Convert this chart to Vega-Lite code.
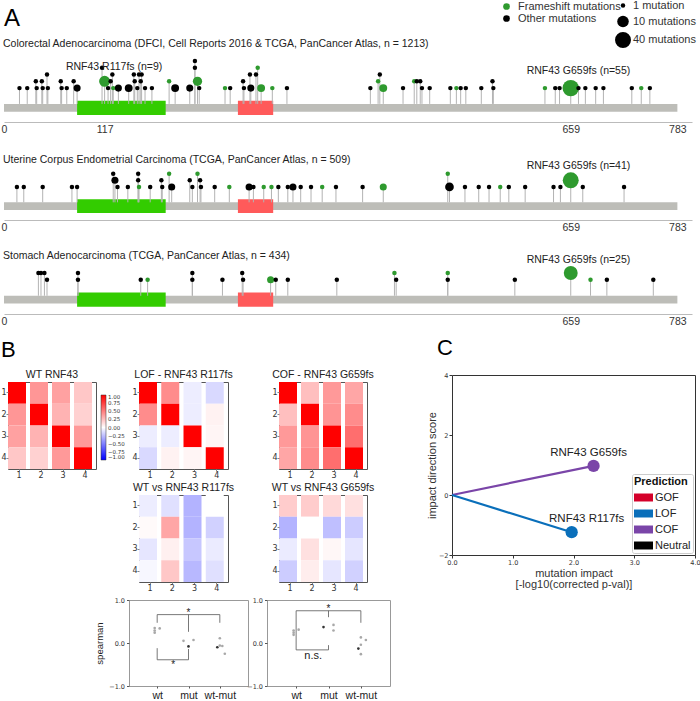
{
"$schema": "https://vega.github.io/schema/vega-lite/v6.json",
"padding": 0,
"config": {"view": {"stroke": null}, "font": "Liberation Sans", "title": {"fontWeight": "normal", "color": "#222"}, "axis": {"grid": false, "labelOverlap": false}},
"datasets": {
"crc": [
{"p":18,"l":1,"m":"O","n":1},{"p":27,"l":1,"m":"O","n":1},{"p":37,"l":2,"m":"O","n":1},{"p":38,"l":1,"m":"O","n":1},{"p":44,"l":2,"m":"O","n":1},{"p":45,"l":1,"m":"O","n":1},{"p":50,"l":3,"m":"O","n":1},{"p":51,"l":1,"m":"O","n":1},{"p":66,"l":2,"m":"O","n":1},{"p":67,"l":1,"m":"O","n":1},{"p":73,"l":1,"m":"O","n":1},{"p":81,"l":2,"m":"O","n":1},{"p":85,"l":1,"m":"O","n":3},{"p":114,"l":4,"m":"O","n":1},{"p":117,"l":2,"m":"F","n":9},{"p":121,"l":1,"m":"O","n":1},{"p":124,"l":2,"m":"O","n":1},{"p":126,"l":3,"m":"O","n":1},{"p":127,"l":1,"m":"F","n":1},{"p":133,"l":1,"m":"O","n":3},{"p":145,"l":1,"m":"O","n":4},{"p":151,"l":3,"m":"O","n":1},{"p":152,"l":2,"m":"O","n":1},{"p":155,"l":1,"m":"O","n":1},{"p":157,"l":3,"m":"O","n":1},{"p":159,"l":2,"m":"O","n":1},{"p":160,"l":3,"m":"O","n":1},{"p":164,"l":1,"m":"O","n":1},{"p":172,"l":1,"m":"O","n":1},{"p":192,"l":2,"m":"F","n":1},{"p":199,"l":1,"m":"O","n":4},{"p":216,"l":1,"m":"O","n":3},{"p":222,"l":5,"m":"O","n":1},{"p":222,"l":4,"m":"O","n":1},{"p":225,"l":2,"m":"F","n":6},{"p":227,"l":1,"m":"O","n":1},{"p":257,"l":1,"m":"F","n":1},{"p":263,"l":1,"m":"O","n":1},{"p":278,"l":2,"m":"O","n":1},{"p":279,"l":1,"m":"O","n":1},{"p":286,"l":3,"m":"O","n":1},{"p":287,"l":1,"m":"O","n":3},{"p":293,"l":3,"m":"O","n":1},{"p":295,"l":4,"m":"F","n":1},{"p":299,"l":1,"m":"F","n":4},{"p":312,"l":1,"m":"F","n":1},{"p":329,"l":1,"m":"O","n":1},{"p":426,"l":1,"m":"O","n":1},{"p":435,"l":2,"m":"F","n":1},{"p":437,"l":3,"m":"O","n":1},{"p":441,"l":1,"m":"F","n":4},{"p":464,"l":1,"m":"O","n":1},{"p":477,"l":2,"m":"F","n":1},{"p":480,"l":2,"m":"O","n":1},{"p":484,"l":2,"m":"O","n":1},{"p":486,"l":1,"m":"O","n":1},{"p":495,"l":1,"m":"O","n":1},{"p":519,"l":1,"m":"O","n":1},{"p":526,"l":1,"m":"F","n":1},{"p":531,"l":1,"m":"O","n":1},{"p":537,"l":1,"m":"O","n":1},{"p":555,"l":1,"m":"O","n":1},{"p":568,"l":2,"m":"O","n":1},{"p":569,"l":1,"m":"O","n":1},{"p":629,"l":1,"m":"F","n":1},{"p":641,"l":1,"m":"O","n":1},{"p":646,"l":1,"m":"O","n":1},{"p":659,"l":1,"m":"F","n":55},{"p":668,"l":1,"m":"O","n":1},{"p":676,"l":1,"m":"O","n":1},{"p":688,"l":1,"m":"O","n":1},{"p":697,"l":1,"m":"O","n":1},{"p":730,"l":1,"m":"O","n":1},{"p":741,"l":1,"m":"F","n":1},{"p":751,"l":1,"m":"O","n":1}
],
"ucec": [
{"p":15,"l":1,"m":"O","n":1},{"p":23,"l":1,"m":"O","n":1},{"p":45,"l":1,"m":"O","n":1},{"p":79,"l":1,"m":"O","n":1},{"p":85,"l":1,"m":"O","n":1},{"p":127,"l":3,"m":"O","n":1},{"p":129,"l":2,"m":"O","n":3},{"p":132,"l":1,"m":"O","n":1},{"p":144,"l":1,"m":"O","n":1},{"p":156,"l":3,"m":"O","n":1},{"p":156,"l":2,"m":"O","n":1},{"p":157,"l":1,"m":"F","n":1},{"p":170,"l":1,"m":"O","n":1},{"p":183,"l":2,"m":"O","n":1},{"p":184,"l":1,"m":"O","n":1},{"p":192,"l":3,"m":"F","n":1},{"p":195,"l":1,"m":"O","n":3},{"p":216,"l":2,"m":"O","n":1},{"p":219,"l":1,"m":"O","n":1},{"p":225,"l":3,"m":"F","n":1},{"p":228,"l":2,"m":"O","n":1},{"p":229,"l":1,"m":"O","n":1},{"p":245,"l":1,"m":"O","n":1},{"p":262,"l":1,"m":"F","n":1},{"p":285,"l":1,"m":"O","n":3},{"p":290,"l":1,"m":"O","n":1},{"p":302,"l":1,"m":"F","n":1},{"p":311,"l":1,"m":"F","n":1},{"p":319,"l":1,"m":"O","n":1},{"p":330,"l":1,"m":"O","n":1},{"p":336,"l":1,"m":"O","n":3},{"p":345,"l":1,"m":"O","n":1},{"p":357,"l":1,"m":"O","n":1},{"p":370,"l":1,"m":"F","n":1},{"p":386,"l":1,"m":"O","n":1},{"p":417,"l":1,"m":"O","n":1},{"p":441,"l":1,"m":"F","n":3},{"p":516,"l":3,"m":"F","n":1},{"p":518,"l":1,"m":"O","n":5},{"p":536,"l":1,"m":"O","n":1},{"p":552,"l":1,"m":"O","n":1},{"p":564,"l":1,"m":"O","n":1},{"p":577,"l":1,"m":"F","n":1},{"p":587,"l":1,"m":"O","n":1},{"p":606,"l":1,"m":"O","n":1},{"p":639,"l":1,"m":"O","n":1},{"p":647,"l":1,"m":"O","n":1},{"p":659,"l":2,"m":"F","n":41},{"p":673,"l":1,"m":"O","n":1},{"p":721,"l":1,"m":"O","n":1}
],
"stad": [
{"p":40,"l":2,"m":"O","n":1},{"p":43,"l":2,"m":"O","n":1},{"p":47,"l":2,"m":"O","n":1},{"p":50,"l":1,"m":"O","n":1},{"p":86,"l":2,"m":"O","n":1},{"p":86,"l":1,"m":"O","n":1},{"p":159,"l":1,"m":"O","n":1},{"p":167,"l":1,"m":"F","n":1},{"p":219,"l":2,"m":"O","n":1},{"p":219,"l":1,"m":"O","n":1},{"p":254,"l":1,"m":"O","n":1},{"p":277,"l":2,"m":"O","n":1},{"p":278,"l":1,"m":"O","n":1},{"p":310,"l":1,"m":"F","n":3},{"p":316,"l":1,"m":"O","n":1},{"p":330,"l":1,"m":"O","n":1},{"p":387,"l":1,"m":"O","n":1},{"p":454,"l":2,"m":"F","n":1},{"p":456,"l":1,"m":"O","n":1},{"p":516,"l":2,"m":"F","n":1},{"p":516,"l":1,"m":"O","n":1},{"p":594,"l":1,"m":"O","n":1},{"p":659,"l":2,"m":"F","n":25},{"p":682,"l":1,"m":"F","n":1},{"p":701,"l":1,"m":"O","n":1},{"p":755,"l":1,"m":"O","n":1}
],
"domains": [{"name":"PA","start":85,"end":188},{"name":"RING","start":272,"end":313}],
"hm": [
{"g":"WT","r":1,"c":1,"v":1},{"g":"WT","r":1,"c":2,"v":0.41},{"g":"WT","r":1,"c":3,"v":0.37},{"g":"WT","r":1,"c":4,"v":0.22},
{"g":"WT","r":2,"c":1,"v":0.41},{"g":"WT","r":2,"c":2,"v":1},{"g":"WT","r":2,"c":3,"v":0.3},{"g":"WT","r":2,"c":4,"v":0.18},
{"g":"WT","r":3,"c":1,"v":0.37},{"g":"WT","r":3,"c":2,"v":0.3},{"g":"WT","r":3,"c":3,"v":1},{"g":"WT","r":3,"c":4,"v":0.4},
{"g":"WT","r":4,"c":1,"v":0.22},{"g":"WT","r":4,"c":2,"v":0.18},{"g":"WT","r":4,"c":3,"v":0.4},{"g":"WT","r":4,"c":4,"v":1},
{"g":"LOF","r":1,"c":1,"v":1},{"g":"LOF","r":1,"c":2,"v":0.45},{"g":"LOF","r":1,"c":3,"v":-0.07},{"g":"LOF","r":1,"c":4,"v":-0.15},
{"g":"LOF","r":2,"c":1,"v":0.45},{"g":"LOF","r":2,"c":2,"v":1},{"g":"LOF","r":2,"c":3,"v":-0.07},{"g":"LOF","r":2,"c":4,"v":0.05},
{"g":"LOF","r":3,"c":1,"v":-0.07},{"g":"LOF","r":3,"c":2,"v":-0.07},{"g":"LOF","r":3,"c":3,"v":1},{"g":"LOF","r":3,"c":4,"v":0.04},
{"g":"LOF","r":4,"c":1,"v":-0.15},{"g":"LOF","r":4,"c":2,"v":0.05},{"g":"LOF","r":4,"c":3,"v":0.04},{"g":"LOF","r":4,"c":4,"v":1},
{"g":"COF","r":1,"c":1,"v":1},{"g":"COF","r":1,"c":2,"v":0.25},{"g":"COF","r":1,"c":3,"v":0.4},{"g":"COF","r":1,"c":4,"v":0.35},
{"g":"COF","r":2,"c":1,"v":0.25},{"g":"COF","r":2,"c":2,"v":1},{"g":"COF","r":2,"c":3,"v":0.42},{"g":"COF","r":2,"c":4,"v":0.45},
{"g":"COF","r":3,"c":1,"v":0.4},{"g":"COF","r":3,"c":2,"v":0.42},{"g":"COF","r":3,"c":3,"v":1},{"g":"COF","r":3,"c":4,"v":0.57},
{"g":"COF","r":4,"c":1,"v":0.35},{"g":"COF","r":4,"c":2,"v":0.45},{"g":"COF","r":4,"c":3,"v":0.57},{"g":"COF","r":4,"c":4,"v":1},
{"g":"R117","r":1,"c":1,"v":-0.07},{"g":"R117","r":1,"c":2,"v":-0.12},{"g":"R117","r":1,"c":3,"v":-0.3},{"g":"R117","r":1,"c":4,"v":0},
{"g":"R117","r":2,"c":1,"v":0.02},{"g":"R117","r":2,"c":2,"v":0.35},{"g":"R117","r":2,"c":3,"v":-0.3},{"g":"R117","r":2,"c":4,"v":-0.18},
{"g":"R117","r":3,"c":1,"v":-0.1},{"g":"R117","r":3,"c":2,"v":0.06},{"g":"R117","r":3,"c":3,"v":-0.22},{"g":"R117","r":3,"c":4,"v":-0.08},
{"g":"R117","r":4,"c":1,"v":-0.03},{"g":"R117","r":4,"c":2,"v":0.22},{"g":"R117","r":4,"c":3,"v":-0.28},{"g":"R117","r":4,"c":4,"v":-0.12},
{"g":"G659","r":1,"c":1,"v":0.2},{"g":"G659","r":1,"c":2,"v":0.2},{"g":"G659","r":1,"c":3,"v":0.15},{"g":"G659","r":1,"c":4,"v":0.12},
{"g":"G659","r":2,"c":1,"v":-0.3},{"g":"G659","r":2,"c":2,"v":0},{"g":"G659","r":2,"c":3,"v":-0.25},{"g":"G659","r":2,"c":4,"v":-0.2},
{"g":"G659","r":3,"c":1,"v":-0.08},{"g":"G659","r":3,"c":2,"v":0.12},{"g":"G659","r":3,"c":3,"v":0.03},{"g":"G659","r":3,"c":4,"v":-0.1},
{"g":"G659","r":4,"c":1,"v":-0.2},{"g":"G659","r":4,"c":2,"v":0.07},{"g":"G659","r":4,"c":3,"v":-0.1},{"g":"G659","r":4,"c":4,"v":-0.18}
],
"sp": [
{"g":"R117","cat":"wt","v":0.35,"k":"rep","j":-1},{"g":"R117","cat":"wt","v":0.34,"k":"rep","j":1},{"g":"R117","cat":"wt","v":0.29,"k":"rep","j":-1},{"g":"R117","cat":"wt","v":0.24,"k":"rep","j":-1},
{"g":"R117","cat":"mut","v":0.05,"k":"rep","j":-2},{"g":"R117","cat":"mut","v":0.07,"k":"rep","j":2},{"g":"R117","cat":"mut","v":-0.08,"k":"mean","j":0},
{"g":"R117","cat":"wt-mut","v":0.11,"k":"rep","j":0},{"g":"R117","cat":"wt-mut","v":-0.1,"k":"mean","j":-1},{"g":"R117","cat":"wt-mut","v":-0.06,"k":"rep","j":0},{"g":"R117","cat":"wt-mut","v":-0.07,"k":"rep","j":1},{"g":"R117","cat":"wt-mut","v":-0.25,"k":"rep","j":2},
{"g":"G659","cat":"wt","v":0.29,"k":"rep","j":-1},{"g":"G659","cat":"wt","v":0.31,"k":"rep","j":1},{"g":"G659","cat":"wt","v":0.24,"k":"rep","j":-1},{"g":"G659","cat":"wt","v":0.19,"k":"rep","j":-1},
{"g":"G659","cat":"mut","v":0.37,"k":"mean","j":-2},{"g":"G659","cat":"mut","v":0.42,"k":"rep","j":2},{"g":"G659","cat":"mut","v":0.29,"k":"rep","j":2},
{"g":"G659","cat":"wt-mut","v":0.13,"k":"rep","j":0},{"g":"G659","cat":"wt-mut","v":0.07,"k":"rep","j":2},{"g":"G659","cat":"wt-mut","v":-0.04,"k":"rep","j":0},{"g":"G659","cat":"wt-mut","v":-0.13,"k":"mean","j":-1},{"g":"G659","cat":"wt-mut","v":-0.26,"k":"rep","j":0}
],
"br": [
{"g":"R117","x":"wt","x2":"wt-mut","y":0.66,"y2":0.66},{"g":"R117","x":"wt","x2":"wt","y":0.66,"y2":0.47},{"g":"R117","x":"mut","x2":"mut","y":0.66,"y2":0.26},{"g":"R117","x":"wt-mut","x2":"wt-mut","y":0.66,"y2":0.47},
{"g":"R117","x":"wt","x2":"wt","y":-0.12,"y2":-0.39},{"g":"R117","x":"wt","x2":"mut","y":-0.39,"y2":-0.39},{"g":"R117","x":"mut","x2":"mut","y":-0.39,"y2":-0.14},
{"g":"G659","x":"wt","x2":"wt-mut","y":0.75,"y2":0.75},{"g":"G659","x":"wt","x2":"wt","y":0.75,"y2":-0.16},{"g":"G659","x":"mut","x2":"mut","y":0.75,"y2":0.6},{"g":"G659","x":"wt-mut","x2":"wt-mut","y":0.75,"y2":0.47},
{"g":"G659","x":"wt","x2":"mut","y":-0.16,"y2":-0.16},{"g":"G659","x":"mut","x2":"mut","y":-0.16,"y2":-0.05}
],
"imp": [{"m":"RNF43 G659fs","x":2.33,"y":0.97,"pred":"COF"},{"m":"RNF43 R117fs","x":1.97,"y":-1.24,"pred":"LOF"}]
},
"vconcat": [
{
"vconcat": [
{
"width": 688, "height": 122, "data": {"name": "crc"},
"layer": [
{"data": {"values": [{}]}, "mark": {"type": "rect", "color": "#bdbdb8"}, "encoding": {"x": {"datum": 0, "type": "quantitative", "scale": {"domain": [0, 783]}, "axis": {"values": [0, 117, 659, 783], "title": null, "ticks": false, "domain": true, "domainColor": "#bbbbbb", "labelFontSize": 10.5, "labelColor": "#333", "labelPadding": 2, "labelFlush": false, "format": "d"}}, "x2": {"datum": 783}, "y": {"datum": -1.33, "type": "quantitative", "scale": {"domain": [-3.4, 12.867]}, "axis": null}, "y2": {"datum": -2.47}}},
{"data": {"name": "domains"}, "mark": {"type": "rect"}, "encoding": {"x": {"field": "start", "type": "quantitative"}, "x2": {"field": "end"}, "y": {"datum": -0.85}, "y2": {"datum": -2.95}, "fill": {"field": "name", "type": "nominal", "scale": {"domain": ["PA", "RING"], "range": ["#33cc00", "#ff5a5a"]}, "legend": null}}},
{"mark": {"type": "rule", "color": "#b3b3b3", "strokeWidth": 1}, "encoding": {"x": {"field": "p", "type": "quantitative"}, "y": {"field": "l", "type": "quantitative"}, "y2": {"datum": -1.33}}},
{"mark": {"type": "circle", "opacity": 1}, "encoding": {"x": {"field": "p", "type": "quantitative"}, "y": {"field": "l", "type": "quantitative"},
 "color": {"field": "m", "type": "nominal", "scale": {"domain": ["F", "O"], "range": ["#2e9a2e", "#000000"]}, "legend": {"orient": "none", "legendX": 497, "legendY": 1, "title": null, "labelExpr": "datum.value == 'F' ? 'Frameshift mutations' : 'Other mutations'", "symbolType": "circle", "symbolSize": 45, "symbolStrokeWidth": 0, "labelFontSize": 11, "labelColor": "#333", "rowPadding": 0, "labelOffset": 6}},
 "size": {"field": "n", "type": "quantitative", "scale": {"type": "linear", "zero": false, "domain": [1, 3, 5, 10, 40, 55], "range": [20, 50, 75, 133, 254, 270]}, "legend": {"orient": "none", "legendX": 611, "legendY": 0, "title": null, "values": [1, 10, 40], "labelExpr": "datum.value == 1 ? '1 mutation' : datum.value + ' mutations'", "symbolFillColor": "#000", "symbolStrokeWidth": 0, "labelFontSize": 11, "labelColor": "#333", "rowPadding": 4.5, "labelOffset": 2}}}},
{"data": {"values": [{}]}, "mark": {"type": "text", "text": "A", "fontSize": 24, "align": "left", "baseline": "middle", "color": "#000"}, "encoding": {"x": {"datum": 0}, "y": {"datum": 11.2}}},
{"data": {"values": [{}]}, "mark": {"type": "text", "text": "Colorectal Adenocarcinoma (DFCI, Cell Reports 2016 & TCGA, PanCancer Atlas, n = 1213)", "fontSize": 10.5, "align": "left", "baseline": "middle", "color": "#222", "dx": -1}, "encoding": {"x": {"datum": 0}, "y": {"datum": 7.53}}},
{"data": {"values": [{}]}, "mark": {"type": "text", "text": "RNF43 R117fs (n=9)", "fontSize": 10.5, "align": "center", "baseline": "middle", "color": "#222"}, "encoding": {"x": {"datum": 128}, "y": {"datum": 4.07}}},
{"data": {"values": [{}]}, "mark": {"type": "text", "text": "RNF43 G659fs (n=55)", "fontSize": 10.5, "align": "center", "baseline": "middle", "color": "#222"}, "encoding": {"x": {"datum": 668}, "y": {"datum": 3.5}}}
]
},
{
"width": 688, "height": 86, "data": {"name": "ucec"},
"layer": [
{"data": {"values": [{}]}, "mark": {"type": "rect", "color": "#bdbdb8"}, "encoding": {"x": {"datum": 0, "type": "quantitative", "scale": {"domain": [0, 783]}, "axis": {"values": [0, 659, 783], "title": null, "ticks": false, "domain": true, "domainColor": "#bbbbbb", "labelFontSize": 10.5, "labelColor": "#333", "labelPadding": 2, "labelFlush": false, "format": "d"}}, "x2": {"datum": 783}, "y": {"datum": -1.33, "type": "quantitative", "scale": {"domain": [-3.4, 8.067]}, "axis": null}, "y2": {"datum": -2.47}}},
{"data": {"name": "domains"}, "mark": {"type": "rect"}, "encoding": {"x": {"field": "start", "type": "quantitative"}, "x2": {"field": "end"}, "y": {"datum": -0.85}, "y2": {"datum": -2.95}, "fill": {"field": "name", "type": "nominal", "scale": {"domain": ["PA", "RING"], "range": ["#33cc00", "#ff5a5a"]}, "legend": null}}},
{"mark": {"type": "rule", "color": "#b3b3b3", "strokeWidth": 1}, "encoding": {"x": {"field": "p", "type": "quantitative"}, "y": {"field": "l", "type": "quantitative"}, "y2": {"datum": -1.33}}},
{"mark": {"type": "circle", "opacity": 1}, "encoding": {"x": {"field": "p", "type": "quantitative"}, "y": {"field": "l", "type": "quantitative"},
 "color": {"field": "m", "type": "nominal", "scale": {"domain": ["F", "O"], "range": ["#2e9a2e", "#000000"]}, "legend": null},
 "size": {"field": "n", "type": "quantitative", "scale": {"type": "linear", "zero": false, "domain": [1, 3, 5, 10, 40, 55], "range": [20, 50, 75, 133, 254, 270]}, "legend": null}}},
{"data": {"values": [{}]}, "mark": {"type": "text", "text": "Uterine Corpus Endometrial Carcinoma (TCGA, PanCancer Atlas, n = 509)", "fontSize": 10.5, "align": "left", "baseline": "middle", "color": "#222", "dx": -1}, "encoding": {"x": {"datum": 0}, "y": {"datum": 5.0}}},
{"data": {"values": [{}]}, "mark": {"type": "text", "text": "RNF43 G659fs (n=41)", "fontSize": 10.5, "align": "center", "baseline": "middle", "color": "#222"}, "encoding": {"x": {"datum": 668}, "y": {"datum": 4.2}}}
]
},
{
"width": 688, "height": 82, "data": {"name": "stad"},
"layer": [
{"data": {"values": [{}]}, "mark": {"type": "rect", "color": "#bdbdb8"}, "encoding": {"x": {"datum": 0, "type": "quantitative", "scale": {"domain": [0, 783]}, "axis": {"values": [0, 659, 783], "title": null, "ticks": false, "domain": true, "domainColor": "#bbbbbb", "labelFontSize": 10.5, "labelColor": "#333", "labelPadding": 2, "labelFlush": false, "format": "d"}}, "x2": {"datum": 783}, "y": {"datum": -1.33, "type": "quantitative", "scale": {"domain": [-3.67, 7.267]}, "axis": null}, "y2": {"datum": -2.47}}},
{"data": {"name": "domains"}, "mark": {"type": "rect"}, "encoding": {"x": {"field": "start", "type": "quantitative"}, "x2": {"field": "end"}, "y": {"datum": -0.85}, "y2": {"datum": -2.95}, "fill": {"field": "name", "type": "nominal", "scale": {"domain": ["PA", "RING"], "range": ["#33cc00", "#ff5a5a"]}, "legend": null}}},
{"mark": {"type": "rule", "color": "#b3b3b3", "strokeWidth": 1}, "encoding": {"x": {"field": "p", "type": "quantitative"}, "y": {"field": "l", "type": "quantitative"}, "y2": {"datum": -1.33}}},
{"mark": {"type": "circle", "opacity": 1}, "encoding": {"x": {"field": "p", "type": "quantitative"}, "y": {"field": "l", "type": "quantitative"},
 "color": {"field": "m", "type": "nominal", "scale": {"domain": ["F", "O"], "range": ["#2e9a2e", "#000000"]}, "legend": null},
 "size": {"field": "n", "type": "quantitative", "scale": {"type": "linear", "zero": false, "domain": [1, 3, 5, 10, 40, 55], "range": [20, 50, 75, 133, 254, 270]}, "legend": null}}},
{"data": {"values": [{}]}, "mark": {"type": "text", "text": "Stomach Adenocarcinoma (TCGA, PanCancer Atlas, n = 434)", "fontSize": 10.5, "align": "left", "baseline": "middle", "color": "#222", "dx": -1}, "encoding": {"x": {"datum": 0}, "y": {"datum": 4.47}}},
{"data": {"values": [{}]}, "mark": {"type": "text", "text": "RNF43 G659fs (n=25)", "fontSize": 10.5, "align": "center", "baseline": "middle", "color": "#222"}, "encoding": {"x": {"datum": 668}, "y": {"datum": 3.97}}}
]
}
],
"spacing": 12, "bounds": "flush",
"resolve": {"scale": {"color": "independent", "size": "independent", "fill": "independent"}}
},
{
"hconcat": [
{
"hconcat": [
{"width": 1, "height": 1, "data": {"values": [{}]}, "mark": {"type": "text", "text": ""}, "encoding": {}},
{
"vconcat": [
{"width": 1, "height": 1, "data": {"values": [{}]}, "mark": {"type": "text", "text": ""}, "encoding": {},
 "title": {"text": "B", "fontSize": 22, "fontWeight": "normal", "color": "#000", "anchor": "start", "frame": "group", "offset": 8, "dx": -7}},
{
"vconcat": [
{
"hconcat": [
{"width": 88, "height": 87, "data": {"name": "hm"}, "transform": [{"filter": "datum.g == 'WT'"}],
 "title": {"text": "WT RNF43", "fontSize": 10.5, "frame": "group", "offset": 2},
 "view": {"stroke": "#555", "strokeWidth": 1},
 "mark": "rect",
 "encoding": {
  "x": {"field": "c", "type": "ordinal", "axis": {"title": null, "labelAngle": 0, "domain": false, "tickSize": 2, "labelFontSize": 8, "labelFont": "DejaVu Sans", "labelColor": "#333", "labelPadding": 0}},
  "y": {"field": "r", "type": "ordinal", "axis": {"title": null, "domain": false, "tickSize": 2, "labelFontSize": 8, "labelFont": "DejaVu Sans", "labelColor": "#333", "labelPadding": 0}},
  "color": {"field": "v", "type": "quantitative", "scale": {"domain": [-1, 0, 1], "range": ["#0000ff", "#ffffff", "#ff0000"], "interpolate": "rgb"},
   "legend": {"orient": "none", "legendX": 93, "legendY": 13, "title": null, "direction": "vertical", "gradientLength": 65, "gradientThickness": 5, "values": [-1, -0.75, -0.5, -0.25, 0, 0.25, 0.5, 0.75, 1], "format": ".2f", "labelFontSize": 5.5, "labelFont": "DejaVu Sans", "labelColor": "#333", "labelOffset": 2, "gradientStrokeColor": "#333", "gradientStrokeWidth": 0.5, "labelOverlap": false}}
 }},
{"width": 1, "height": 1, "data": {"values": [{}]}, "mark": {"type": "text", "text": ""}, "encoding": {}},
{"width": 89, "height": 87, "data": {"name": "hm"}, "transform": [{"filter": "datum.g == 'LOF'"}],
 "title": {"text": "LOF - RNF43 R117fs", "fontSize": 10.5, "frame": "group", "offset": 2},
 "view": {"stroke": "#555", "strokeWidth": 1},
 "mark": "rect",
 "encoding": {
  "x": {"field": "c", "type": "ordinal", "axis": {"title": null, "labelAngle": 0, "domain": false, "tickSize": 2, "labelFontSize": 8, "labelFont": "DejaVu Sans", "labelColor": "#333", "labelPadding": 0}},
  "y": {"field": "r", "type": "ordinal", "axis": {"title": null, "domain": false, "tickSize": 2, "labelFontSize": 8, "labelFont": "DejaVu Sans", "labelColor": "#333", "labelPadding": 0}},
  "color": {"field": "v", "type": "quantitative", "scale": {"domain": [-1, 0, 1], "range": ["#0000ff", "#ffffff", "#ff0000"], "interpolate": "rgb"}, "legend": null}
 }},
{"width": 9, "height": 1, "data": {"values": [{}]}, "mark": {"type": "text", "text": ""}, "encoding": {}},
{"width": 88, "height": 87, "data": {"name": "hm"}, "transform": [{"filter": "datum.g == 'COF'"}],
 "title": {"text": "COF - RNF43 G659fs", "fontSize": 10.5, "frame": "group", "offset": 2},
 "view": {"stroke": "#555", "strokeWidth": 1},
 "mark": "rect",
 "encoding": {
  "x": {"field": "c", "type": "ordinal", "axis": {"title": null, "labelAngle": 0, "domain": false, "tickSize": 2, "labelFontSize": 8, "labelFont": "DejaVu Sans", "labelColor": "#333", "labelPadding": 0}},
  "y": {"field": "r", "type": "ordinal", "axis": {"title": null, "domain": false, "tickSize": 2, "labelFontSize": 8, "labelFont": "DejaVu Sans", "labelColor": "#333", "labelPadding": 0}},
  "color": {"field": "v", "type": "quantitative", "scale": {"domain": [-1, 0, 1], "range": ["#0000ff", "#ffffff", "#ff0000"], "interpolate": "rgb"}, "legend": null}
 }}
],
"spacing": 21, "bounds": "flush", "resolve": {"scale": {"color": "independent"}}
},
{
"vconcat": [
{
"hconcat": [
{"width": 80, "height": 1, "data": {"values": [{}]}, "mark": {"type": "text", "text": ""}, "encoding": {}},
{"width": 89, "height": 87, "data": {"name": "hm"}, "transform": [{"filter": "datum.g == 'R117'"}],
 "title": {"text": "WT vs RNF43 R117fs", "fontSize": 10.5, "frame": "group", "offset": 2},
 "view": {"stroke": "#555", "strokeWidth": 1},
 "mark": "rect",
 "encoding": {
  "x": {"field": "c", "type": "ordinal", "axis": {"title": null, "labelAngle": 0, "domain": false, "tickSize": 2, "labelFontSize": 8, "labelFont": "DejaVu Sans", "labelColor": "#333", "labelPadding": 0}},
  "y": {"field": "r", "type": "ordinal", "axis": {"title": null, "domain": false, "tickSize": 2, "labelFontSize": 8, "labelFont": "DejaVu Sans", "labelColor": "#333", "labelPadding": 0}},
  "color": {"field": "v", "type": "quantitative", "scale": {"domain": [-1, 0, 1], "range": ["#0000ff", "#ffffff", "#ff0000"], "interpolate": "rgb"}, "legend": null}
 }},
{"width": 88, "height": 87, "data": {"name": "hm"}, "transform": [{"filter": "datum.g == 'G659'"}],
 "title": {"text": "WT vs RNF43 G659fs", "fontSize": 10.5, "frame": "group", "offset": 2},
 "view": {"stroke": "#555", "strokeWidth": 1},
 "mark": "rect",
 "encoding": {
  "x": {"field": "c", "type": "ordinal", "axis": {"title": null, "labelAngle": 0, "domain": false, "tickSize": 2, "labelFontSize": 8, "labelFont": "DejaVu Sans", "labelColor": "#333", "labelPadding": 0}},
  "y": {"field": "r", "type": "ordinal", "axis": {"title": null, "domain": false, "tickSize": 2, "labelFontSize": 8, "labelFont": "DejaVu Sans", "labelColor": "#333", "labelPadding": 0}},
  "color": {"field": "v", "type": "quantitative", "scale": {"domain": [-1, 0, 1], "range": ["#0000ff", "#ffffff", "#ff0000"], "interpolate": "rgb"}, "legend": null}
 }}
],
"spacing": 51, "bounds": "flush", "resolve": {"scale": {"color": "independent"}}
},
{
"hconcat": [
{"width": 102, "height": 1, "data": {"values": [{}]}, "mark": {"type": "text", "text": ""}, "encoding": {}},
{"width": 119, "height": 86, "view": {"stroke": "#999", "strokeWidth": 1},
 "layer": [
  {"data": {"name": "br"}, "transform": [{"filter": "datum.g == 'R117'"}], "mark": {"type": "rule", "color": "#555", "strokeWidth": 0.8},
   "encoding": {"x": {"field": "x", "type": "nominal", "scale": {"type": "point", "domain": ["wt", "mut", "wt-mut"], "padding": 0.9}, "axis": {"title": null, "labelAngle": 0, "labelFontSize": 10.5, "labelColor": "#222", "tickSize": 2, "tickColor": "#555", "domain": false, "labelPadding": 2, "labelOverlap": false}}, "x2": {"field": "x2"},
    "y": {"field": "y", "type": "quantitative", "scale": {"domain": [-1, 1]}, "axis": {"values": [-1, -0.5, 0, 0.5, 1], "format": ".1f", "labelOverlap": false, "labelFlush": false, "labelFontSize": 6.5, "labelFont": "DejaVu Sans", "labelColor": "#333", "tickSize": 2.5, "tickColor": "#555", "domain": false, "title": "spearman", "titleFontSize": 9.5, "titleFontWeight": "normal", "titleColor": "#222", "titlePadding": 4}}, "y2": {"field": "y2"}}},
  {"data": {"name": "sp"}, "transform": [{"filter": "datum.g == 'R117'"}], "mark": {"type": "circle", "size": 7, "opacity": 1},
   "encoding": {"x": {"field": "cat", "type": "nominal"}, "xOffset": {"field": "j", "type": "quantitative", "scale": {"domain": [-2, 2], "range": [-5, 5]}}, "y": {"field": "v", "type": "quantitative"},
    "color": {"field": "k", "type": "nominal", "scale": {"domain": ["rep", "mean"], "range": ["#a8a8a8", "#333333"]}, "legend": null}}},
  {"data": {"values": [{}]}, "mark": {"type": "text", "text": "*", "fontSize": 10, "color": "#222", "baseline": "middle"}, "encoding": {"x": {"datum": "mut"}, "y": {"datum": 0.7}}},
  {"data": {"values": [{}]}, "mark": {"type": "text", "text": "*", "fontSize": 10, "color": "#222", "baseline": "middle", "dx": 16}, "encoding": {"x": {"datum": "wt"}, "y": {"datum": -0.5}}}
 ]},
{"width": 123, "height": 86, "view": {"stroke": "#999", "strokeWidth": 1},
 "layer": [
  {"data": {"name": "br"}, "transform": [{"filter": "datum.g == 'G659'"}], "mark": {"type": "rule", "color": "#555", "strokeWidth": 0.8},
   "encoding": {"x": {"field": "x", "type": "nominal", "scale": {"type": "point", "domain": ["wt", "mut", "wt-mut"], "padding": 0.9}, "axis": {"title": null, "labelAngle": 0, "labelFontSize": 10.5, "labelColor": "#222", "tickSize": 2, "tickColor": "#555", "domain": false, "labelPadding": 2, "labelOverlap": false}}, "x2": {"field": "x2"},
    "y": {"field": "y", "type": "quantitative", "scale": {"domain": [-1, 1]}, "axis": {"values": [-1, -0.5, 0, 0.5, 1], "format": ".1f", "labelOverlap": false, "labelFlush": false, "labelFontSize": 6.5, "labelFont": "DejaVu Sans", "labelColor": "#333", "tickSize": 2.5, "tickColor": "#555", "domain": false, "title": null}}, "y2": {"field": "y2"}}},
  {"data": {"name": "sp"}, "transform": [{"filter": "datum.g == 'G659'"}], "mark": {"type": "circle", "size": 7, "opacity": 1},
   "encoding": {"x": {"field": "cat", "type": "nominal"}, "xOffset": {"field": "j", "type": "quantitative", "scale": {"domain": [-2, 2], "range": [-5, 5]}}, "y": {"field": "v", "type": "quantitative"},
    "color": {"field": "k", "type": "nominal", "scale": {"domain": ["rep", "mean"], "range": ["#a8a8a8", "#333333"]}, "legend": null}}},
  {"data": {"values": [{}]}, "mark": {"type": "text", "text": "*", "fontSize": 10, "color": "#222", "baseline": "middle"}, "encoding": {"x": {"datum": "mut"}, "y": {"datum": 0.78}}},
  {"data": {"values": [{}]}, "mark": {"type": "text", "text": "n.s.", "fontSize": 11, "color": "#222", "baseline": "middle", "dx": 17}, "encoding": {"x": {"datum": "wt"}, "y": {"datum": -0.3}}}
 ]}
],
"spacing": 19, "bounds": "flush", "resolve": {"scale": {"color": "independent"}}
}
],
"spacing": 1, "resolve": {"scale": {"color": "independent"}}
}
],
"spacing": 2, "resolve": {"scale": {"color": "independent"}}
}
],
"spacing": -12, "resolve": {"scale": {"color": "independent"}}
}
],
"spacing": -5, "resolve": {"scale": {"color": "independent"}}
},
{
"width": 243, "height": 180, "data": {"name": "imp"},
"title": {"text": "C", "fontSize": 22, "fontWeight": "normal", "color": "#000", "anchor": "start", "frame": "group", "offset": 12, "dx": -15},
"view": {"stroke": "#333", "strokeWidth": 1},
"layer": [
 {"mark": {"type": "rule", "strokeWidth": 2.2}, "encoding": {
  "x": {"field": "x", "type": "quantitative", "scale": {"domain": [0, 4]}, "axis": {"values": [0, 0.5, 1, 1.5, 2, 2.5, 3, 3.5, 4], "format": ".1f", "labelOverlap": false, "labelFontSize": 6.5, "labelFont": "DejaVu Sans", "labelColor": "#333", "tickSize": 3, "tickColor": "#333", "domain": false, "labelPadding": 1, "labelFlush": false, "title": ["mutation impact", "[-log10(corrected p-val)]"], "titleFontSize": 11, "titleFontWeight": "normal", "titleColor": "#333", "titlePadding": 2, "titleLineHeight": 11}},
  "y": {"field": "y", "type": "quantitative", "scale": {"domain": [-2, 4]}, "axis": {"values": [-2, -1, 0, 1, 2, 3, 4], "format": "d", "labelOverlap": false, "labelFontSize": 6.5, "labelFont": "DejaVu Sans", "labelColor": "#333", "tickSize": 3, "tickColor": "#333", "domain": false, "labelPadding": 1, "labelFlush": false, "title": "impact direction score", "titleFontSize": 11, "titleFontWeight": "normal", "titleColor": "#333", "titlePadding": 1}},
  "x2": {"datum": 0}, "y2": {"datum": 0},
  "stroke": {"field": "pred", "type": "nominal", "scale": {"domain": ["GOF", "LOF", "COF", "Neutral"], "range": ["#d4002a", "#0a6fba", "#7a45a8", "#000000"]}, "legend": null}}},
 {"mark": {"type": "circle", "size": 150, "opacity": 1}, "encoding": {
  "x": {"field": "x", "type": "quantitative"}, "y": {"field": "y", "type": "quantitative"},
  "color": {"field": "pred", "type": "nominal", "scale": {"domain": ["GOF", "LOF", "COF", "Neutral"], "range": ["#d4002a", "#0a6fba", "#7a45a8", "#000000"]},
   "legend": {"orient": "bottom-right", "offset": 2, "title": "Prediction", "titleFontSize": 11, "titleFontWeight": "bold", "titleColor": "#111", "labelFontSize": 11, "labelColor": "#222", "symbolType": "M-1,-0.42H1V0.42H-1Z", "symbolSize": 361, "symbolStrokeWidth": 0, "strokeColor": "#cccccc", "fillColor": "#ffffff", "padding": 2, "rowPadding": 1, "labelOffset": 2, "titlePadding": 1, "cornerRadius": 2}}}},
 {"transform": [{"filter": "datum.m == 'RNF43 G659fs'"}], "mark": {"type": "text", "fontSize": 11.5, "color": "#222", "dx": -5, "dy": -13}, "encoding": {"x": {"field": "x", "type": "quantitative"}, "y": {"field": "y", "type": "quantitative"}, "text": {"field": "m"}}},
 {"transform": [{"filter": "datum.m == 'RNF43 R117fs'"}], "mark": {"type": "text", "fontSize": 11.5, "color": "#222", "dx": 15, "dy": -13}, "encoding": {"x": {"field": "x", "type": "quantitative"}, "y": {"field": "y", "type": "quantitative"}, "text": {"field": "m"}}}
]
}
],
"spacing": 34, "resolve": {"scale": {"color": "independent"}}
}
],
"spacing": 9,
"resolve": {"scale": {"color": "independent", "size": "independent", "fill": "independent"}}
}
